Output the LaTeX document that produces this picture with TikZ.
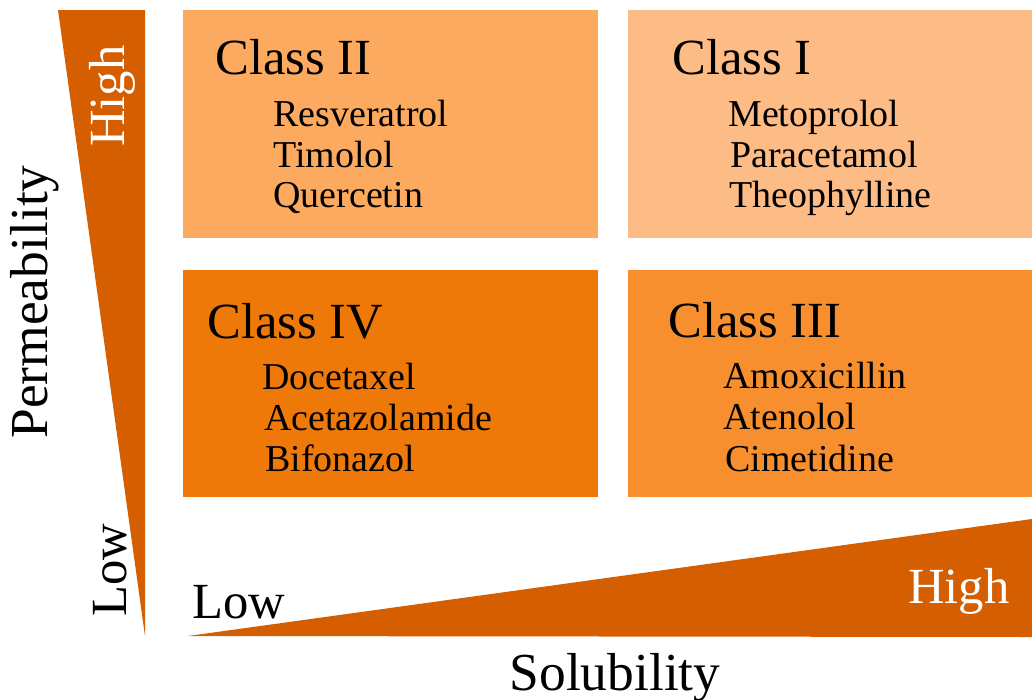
\documentclass[tikz,border=0pt]{standalone}
\usepackage{fontspec}
\setmainfont{Liberation Serif}
\usetikzlibrary{calc}
\definecolor{darkor}{RGB}{213,94,0}
\definecolor{boxtwo}{RGB}{252,170,96}
\definecolor{boxone}{RGB}{253,187,133}
\definecolor{boxfour}{RGB}{238,121,8}
\definecolor{boxthree}{RGB}{247,143,46}
\tikzset{
	classlbl/.style={anchor=base west, inner sep=0pt, font=\fontsize{36}{40}\selectfont},
	druglbl/.style={anchor=base west, inner sep=0pt, font=\fontsize{27}{30}\selectfont},
	axislbl/.style={inner sep=0pt, font=\fontsize{38}{42}\selectfont},
	endlbl/.style={inner sep=0pt, font=\fontsize{36}{40}\selectfont},
}

\begin{document}
\begin{tikzpicture}[x=0.025cm, y=-0.025cm]
			%%%%% START %%%%%
			\useasboundingbox (0, 0) rectangle (1032, 699);
			
			\fill[darkor] (58, 10) -- (145, 10) -- (145, 636) -- cycle;
			\fill[darkor] (188, 636) -- (1032, 519) -- (1032, 637) -- cycle;
			
			\fill[boxtwo] (183, 10) rectangle (598, 238);
			\fill[boxone] (628, 10) rectangle (1032, 238);
			\fill[boxfour] (183, 270) rectangle (598, 497);
			\fill[boxthree] (628, 270) rectangle (1032, 497);
			
			\node[classlbl] (c2) at (215, 74) {Class II};
			\node[druglbl] (resv) at (273, 126) {Resveratrol};
			\node[druglbl] (timo) at (273, 167) {Timolol};
			\node[druglbl] (quer) at (273, 207) {Quercetin};
			
			\node[classlbl] (c1) at (672, 74) {Class I};
			\node[druglbl] (meto) at (728, 126) {Metoprolol};
			\node[druglbl] (para) at (730, 167) {Paracetamol};
			\node[druglbl] (theo) at (729, 207) {Theophylline};
			
			\node[classlbl] (c4) at (207, 338) {Class IV};
			\node[druglbl] (doce) at (262, 389) {Docetaxel};
			\node[druglbl] (acet) at (264, 430) {Acetazolamide};
			\node[druglbl] (bifo) at (265, 471) {Bifonazol};
			
			\node[classlbl] (c3) at (668, 337) {Class III};
			\node[druglbl] (amox) at (723, 388) {Amoxicillin};
			\node[druglbl] (aten) at (723, 429) {Atenolol};
			\node[druglbl] (cime) at (725, 471) {Cimetidine};
			
			\node[axislbl, rotate=90] (perm) at (35, 302) {Permeability};
			\node[endlbl, rotate=90, text=white] (phigh) at (112, 96) {High};
			\node[endlbl, rotate=90] (plow) at (110, 570) {Low};
			
			\node[axislbl, anchor=base] (solu) at (615, 690) {Solubility};
			\node[endlbl, anchor=base west] (slow) at (192, 618) {Low};
			\node[endlbl, anchor=base west, text=white] (shigh) at (908, 603) {High};
			%%%%% END %%%%%
\end{tikzpicture}
\end{document}
